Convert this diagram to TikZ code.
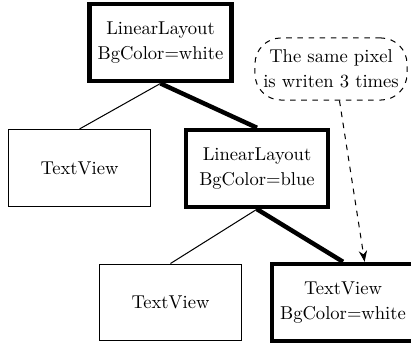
\documentclass[tikz,border=0pt]{standalone}
\usetikzlibrary{arrows.meta}
\begin{document}
\begin{tikzpicture}[
  x=0.538pt, y=-0.538pt,
  view/.style={draw, rectangle, line width=0.55pt, minimum width=76.4pt,
    minimum height=41.4pt, align=center, inner sep=0pt},
  hot/.style={view, line width=2.4pt},
  link/.style={line width=0.55pt},
  hotlink/.style={line width=2.4pt},
  note/.style={draw, dashed, rectangle, rounded corners=14pt, line width=0.55pt,
    minimum width=81.8pt, minimum height=33.4pt, align=center, inner sep=0pt},
  notearrow/.style={dashed, line width=0.55pt, -{Stealth[length=6pt,width=4.5pt]}}
]
\useasboundingbox (0,0) rectangle (411,345);

% view hierarchy (the last box runs past the right margin)
\node[hot]  (root) at (160.5,42.75) {LinearLayout\\[1.45pt]BgColor=white};
\node[view] (tv1)  at (79.5,168)    {TextView};
\node[hot]  (ll2)  at (257,168.5)   {LinearLayout\\[1.45pt]BgColor=blue};
\node[view] (tv3)  at (170.5,302.5) {TextView};
\node[hot]  (tv4)  at (343,302.5)   {TextView\\[1.45pt]BgColor=white};

% tree edges
\draw[link]    (root.south) -- (tv1.north);
\draw[hotlink] (root.south) -- (ll2.north);
\draw[link]    (ll2.south)  -- (tv3.north);
\draw[hotlink] (ll2.south)  -- (tv4.north);

% overdraw remark
\node[note] (remark) at (331,69) {The same pixel\\[1.45pt]is writen 3 times};
\draw[notearrow] (remark.-75.5) -- (tv4.62);
\end{tikzpicture}
\end{document}
